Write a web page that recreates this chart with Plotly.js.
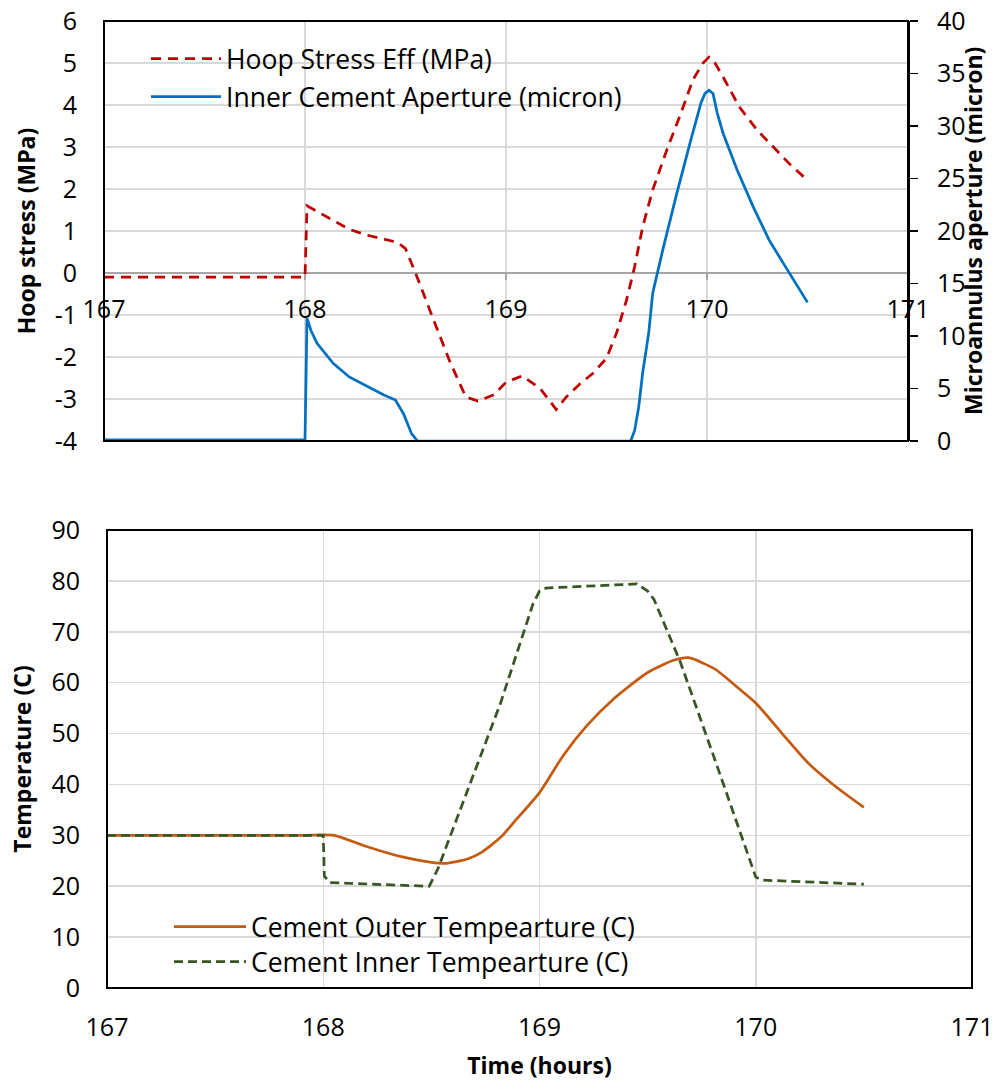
<!DOCTYPE html>
<html>
<head>
<meta charset="utf-8">
<script src="https://cdn.plot.ly/plotly-3.0.1.min.js"></script>
<style>html,body{margin:0;padding:0;background:#fff;}#chart{width:1002px;height:1088px;}</style>
</head>
<body>
<div id="chart"></div>
<script>
// ---- Top chart data ----
const hoopTime = [167, 168.0, 168.01, 168.14, 168.22, 168.31, 168.39, 168.46, 168.5, 168.55, 168.64, 168.72, 168.8, 168.86, 168.94, 169.0, 169.08, 169.17, 169.25, 169.3, 169.37, 169.43, 169.5, 169.55, 169.6, 169.64, 169.68, 169.73, 169.8, 169.87, 169.93, 169.98, 170.01, 170.04, 170.08, 170.16, 170.25, 170.33, 170.41, 170.5];
const hoopStress = [-0.1, -0.1, 1.6, 1.26, 1.04, 0.9, 0.8, 0.73, 0.58, 0.0, -1.12, -2.1, -2.95, -3.05, -2.9, -2.6, -2.45, -2.75, -3.25, -2.95, -2.63, -2.4, -2.03, -1.43, -0.64, 0.15, 1.1, 1.98, 2.93, 3.8, 4.6, 5.0, 5.14, 5.0, 4.67, 3.96, 3.4, 3.0, 2.6, 2.21];

const apTime = [167, 168.0, 168.01, 168.02, 168.03, 168.06, 168.1, 168.14, 168.22, 168.31, 168.39, 168.45, 168.49, 168.53, 168.56, 169.62, 169.64, 169.66, 169.68, 169.71, 169.73, 169.78, 169.85, 169.92, 169.97, 169.99, 170.01, 170.03, 170.05, 170.08, 170.15, 170.23, 170.31, 170.4, 170.5];
const aperture = [0.1, 0.1, 11.7, 11.1, 10.5, 9.3, 8.3, 7.4, 6.1, 5.2, 4.4, 3.9, 2.6, 0.7, 0.0, 0.0, 1.0, 3.2, 6.5, 10.3, 14.1, 18.2, 23.6, 28.7, 32.2, 33.1, 33.4, 33.1, 31.3, 29.3, 25.8, 22.3, 19.1, 16.3, 13.2];

// ---- Bottom chart data ----
const outerTime = [167, 167.9, 168.05, 168.2, 168.36, 168.5, 168.57, 168.67, 168.73, 168.82, 168.88, 169.0, 169.11, 169.22, 169.34, 169.5, 169.62, 169.69, 169.81, 169.92, 170.0, 170.12, 170.24, 170.36, 170.5];
const outerTemp = [30, 30, 30, 27.8, 25.8, 24.7, 24.5, 25.4, 26.6, 29.6, 32.5, 38.4, 45.7, 51.6, 56.7, 62.0, 64.4, 64.9, 62.7, 58.9, 56.0, 50.1, 44.3, 39.9, 35.5];

const innerTime = [167, 168.0, 168.005, 168.03, 168.49, 168.53, 168.82, 168.97, 169.0, 169.03, 169.45, 169.5, 169.53, 169.65, 169.81, 169.96, 170.0, 170.03, 170.5];
const innerTemp = [30, 30, 22.0, 20.7, 20.0, 23.4, 56, 75.5, 78.0, 78.6, 79.4, 78.0, 76.3, 64.2, 45, 26.7, 21.8, 21.2, 20.4];

const xTicks = [167, 168, 169, 170, 171];
const hoopTicks = [-4, -3, -2, -1, 0, 1, 2, 3, 4, 5, 6];
const apTicks = [0, 5, 10, 15, 20, 25, 30, 35, 40];
const tempTicks = [0, 10, 20, 30, 40, 50, 60, 70, 80, 90];

const FONT = '"Open Sans", Lato, sans-serif';
const GRID = '#d9d9d9';

const W = 1002, H = 1088;
const px = v => v / W;
const py = v => 1 - v / H;

const topX = [px(104), px(908)];
const topY = [py(441), py(21)];
const botX = [px(107), px(972)];
const botY = [py(988), py(530)];

const traces = [
  {x: hoopTime, y: hoopStress, name: 'Hoop Stress Eff (MPa)', type: 'scatter', mode: 'lines',
   xaxis: 'x', yaxis: 'y', legend: 'legend',
   line: {color: '#C00000', width: 2.75, dash: '10px,7px'}},
  {x: apTime, y: aperture, name: 'Inner Cement Aperture (micron)', type: 'scatter', mode: 'lines',
   xaxis: 'x', yaxis: 'y2', legend: 'legend2',
   line: {color: '#0070C0', width: 2.75}},
  {x: outerTime, y: outerTemp, name: 'Cement Outer Tempearture (C)', type: 'scatter', mode: 'lines',
   xaxis: 'x2', yaxis: 'y3', legend: 'legend3',
   line: {color: '#C55A11', width: 2.75, shape: 'spline', smoothing: 0.6}},
  {x: innerTime, y: innerTemp, name: 'Cement Inner Tempearture (C)', type: 'scatter', mode: 'lines',
   xaxis: 'x2', yaxis: 'y3', legend: 'legend4',
   line: {color: '#375623', width: 2.75, dash: '9px,5px'}}
];

const legBase = {xanchor: 'left', yanchor: 'middle', bgcolor: 'rgba(0,0,0,0)',
  font: {family: FONT, size: 26.5, color: '#000'}, borderwidth: 0};

const tickFont = {family: FONT, size: 25, color: '#000'};
const titleFont = {family: FONT, size: 23, color: '#000', weight: 'bold'};
const lbl = a => a.map(v => String(v));

const layout = {
  width: W, height: H,
  margin: {l: 0, r: 0, t: 0, b: 0},
  paper_bgcolor: '#fff', plot_bgcolor: '#fff',
  showlegend: true,
  font: {family: FONT, color: '#000'},
  xaxis: {
    domain: topX, range: [167, 171], tickvals: xTicks, ticktext: lbl(xTicks),
    anchor: 'free', position: py(273),
    showline: false, zeroline: false,
    showgrid: true, gridcolor: GRID, gridwidth: 1.5,
    ticks: 'outside', ticklen: 6, tickcolor: '#a6a6a6', tickwidth: 1.5,
    ticklabelstandoff: 8,
    tickfont: tickFont
  },
  yaxis: {
    domain: topY, range: [-4, 6], tickvals: hoopTicks, ticktext: lbl(hoopTicks), anchor: 'x',
    showgrid: true, gridcolor: GRID, gridwidth: 1.5,
    zeroline: true, zerolinecolor: '#a6a6a6', zerolinewidth: 1.5,
    showline: false, ticks: '', ticklabelstandoff: 26,
    tickfont: tickFont,
    title: {text: 'Hoop stress (MPa)', font: titleFont, standoff: 12}
  },
  yaxis2: {
    overlaying: 'y', side: 'right', anchor: 'x', range: [0, 40], tickvals: apTicks, ticktext: lbl(apTicks),
    showgrid: false, zeroline: false,
    showline: true, linecolor: '#000', linewidth: 2,
    ticks: 'outside', ticklen: 8, tickcolor: '#000', tickwidth: 1.5,
    ticklabelstandoff: 14,
    tickfont: tickFont
  },
  xaxis2: {
    domain: botX, range: [167, 171], tickvals: xTicks, ticktext: lbl(xTicks),
    anchor: 'y3',
    showline: false, zeroline: false,
    showgrid: true, gridcolor: GRID, gridwidth: 1.5,
    ticks: '', ticklabelstandoff: 22,
    tickfont: tickFont,
    title: {text: 'Time (hours)', font: titleFont, standoff: 15}
  },
  yaxis3: {
    domain: botY, range: [0, 90], tickvals: tempTicks, ticktext: lbl(tempTicks), anchor: 'x2',
    showgrid: true, gridcolor: GRID, gridwidth: 1.5,
    zeroline: false, showline: false, ticks: '', ticklabelstandoff: 26,
    tickfont: tickFont,
    title: {text: 'Temperature (C)', font: titleFont, standoff: 13}
  },
  annotations: [
    {text: 'Microannulus aperture (micron)', xref: 'paper', yref: 'paper',
     x: px(973), y: py(231), xanchor: 'center', yanchor: 'middle', textangle: -90,
     showarrow: false, font: titleFont}
  ],
  legend: Object.assign({}, legBase, {x: px(146), y: py(59), itemwidth: 70}),
  legend2: Object.assign({}, legBase, {x: px(146), y: py(97), itemwidth: 70}),
  legend3: Object.assign({}, legBase, {x: px(169), y: py(927), itemwidth: 72}),
  legend4: Object.assign({}, legBase, {x: px(169), y: py(962), itemwidth: 72}),
  shapes: [
    {type: 'rect', xref: 'paper', yref: 'paper', x0: topX[0], x1: topX[1], y0: topY[0], y1: topY[1],
     line: {color: '#000', width: 2}, layer: 'above'},
    {type: 'rect', xref: 'paper', yref: 'paper', x0: botX[0], x1: botX[1], y0: botY[0], y1: botY[1],
     line: {color: '#000', width: 2}, layer: 'above'}
  ]
};

Plotly.newPlot('chart', traces, layout, {displayModeBar: false, staticPlot: true});
</script>
</body>
</html>
